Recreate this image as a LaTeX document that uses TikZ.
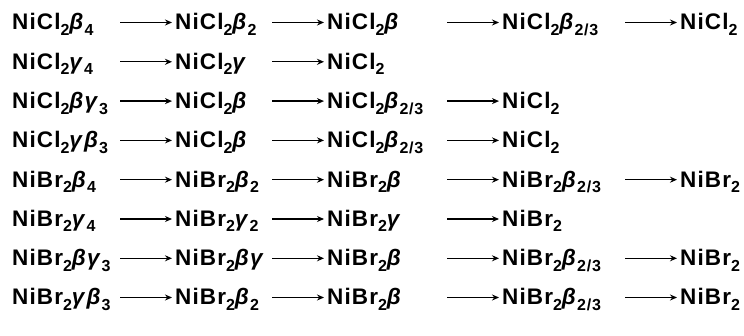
\documentclass[tikz,border=0pt]{standalone}
\usepackage{fontspec}
\setmainfont{Liberation Sans}[LetterSpace=5]
\usetikzlibrary{arrows.meta}
% lowered index, Greek ligand labels, and the two halides
\newcommand\lowidx[1]{\raisebox{-5.5pt}{\fontsize{16}{16}\selectfont #1}}
\newcommand\Bt{\textit{β}}
\newcommand\Gm{\textit{γ}}
\newcommand\NiCl{NiCl\lowidx{2}}
\newcommand\NiBr{NiBr\lowidx{2}}
% reaction arrow of fixed length ending just before a product node
\newcommand\rx[1]{\draw[rxn] ([shift={(-55pt,7.5pt)}]#1.base west) -- ([shift={(-3pt,7.5pt)}]#1.base west);}
\begin{document}
\begin{tikzpicture}[x=1pt,y=-1pt,
  chem/.style={anchor=base west,inner sep=0pt,font=\fontsize{22.5}{25}\selectfont\bfseries},
  rxn/.style={line width=1.3pt,-{Stealth[length=7pt,width=6pt]}}]
\useasboundingbox (0,0) rectangle (744,336);
% column left edges: 12, 175, 327, 502, 680
% row 1
\node[chem] (a1) at (12,30) {\NiCl\Bt\lowidx{4}};
\node[chem] (a2) at (175,30) {\NiCl\Bt\lowidx{2}};
\node[chem] (a3) at (327,30) {\NiCl\Bt};
\node[chem] (a4) at (502,30) {\NiCl\Bt\lowidx{2/3}};
\node[chem] (a5) at (680,30) {\NiCl};
\rx{a2}\rx{a3}\rx{a4}\rx{a5}
% row 2
\node[chem] (b1) at (12,69.3) {\NiCl\Gm\lowidx{4}};
\node[chem] (b2) at (175,69.3) {\NiCl\Gm};
\node[chem] (b3) at (327,69.3) {\NiCl};
\rx{b2}\rx{b3}
% row 3
\node[chem] (c1) at (12,108.6) {\NiCl\Bt\Gm\lowidx{3}};
\node[chem] (c2) at (175,108.6) {\NiCl\Bt};
\node[chem] (c3) at (327,108.6) {\NiCl\Bt\lowidx{2/3}};
\node[chem] (c4) at (502,108.6) {\NiCl};
\rx{c2}\rx{c3}\rx{c4}
% row 4
\node[chem] (d1) at (12,147.9) {\NiCl\Gm\Bt\lowidx{3}};
\node[chem] (d2) at (175,147.9) {\NiCl\Bt};
\node[chem] (d3) at (327,147.9) {\NiCl\Bt\lowidx{2/3}};
\node[chem] (d4) at (502,147.9) {\NiCl};
\rx{d2}\rx{d3}\rx{d4}
% row 5
\node[chem] (e1) at (12,187.2) {\NiBr\Bt\lowidx{4}};
\node[chem] (e2) at (175,187.2) {\NiBr\Bt\lowidx{2}};
\node[chem] (e3) at (327,187.2) {\NiBr\Bt};
\node[chem] (e4) at (502,187.2) {\NiBr\Bt\lowidx{2/3}};
\node[chem] (e5) at (680,187.2) {\NiBr};
\rx{e2}\rx{e3}\rx{e4}\rx{e5}
% row 6
\node[chem] (f1) at (12,226.5) {\NiBr\Gm\lowidx{4}};
\node[chem] (f2) at (175,226.5) {\NiBr\Gm\lowidx{2}};
\node[chem] (f3) at (327,226.5) {\NiBr\Gm};
\node[chem] (f4) at (502,226.5) {\NiBr};
\rx{f2}\rx{f3}\rx{f4}
% row 7
\node[chem] (g1) at (12,265.8) {\NiBr\Bt\Gm\lowidx{3}};
\node[chem] (g2) at (175,265.8) {\NiBr\Bt\Gm};
\node[chem] (g3) at (327,265.8) {\NiBr\Bt};
\node[chem] (g4) at (502,265.8) {\NiBr\Bt\lowidx{2/3}};
\node[chem] (g5) at (680,265.8) {\NiBr};
\rx{g2}\rx{g3}\rx{g4}\rx{g5}
% row 8
\node[chem] (h1) at (12,305) {\NiBr\Gm\Bt\lowidx{3}};
\node[chem] (h2) at (175,305) {\NiBr\Bt\lowidx{2}};
\node[chem] (h3) at (327,305) {\NiBr\Bt};
\node[chem] (h4) at (502,305) {\NiBr\Bt\lowidx{2/3}};
\node[chem] (h5) at (680,305) {\NiBr};
\rx{h2}\rx{h3}\rx{h4}\rx{h5}
\end{tikzpicture}
\end{document}
